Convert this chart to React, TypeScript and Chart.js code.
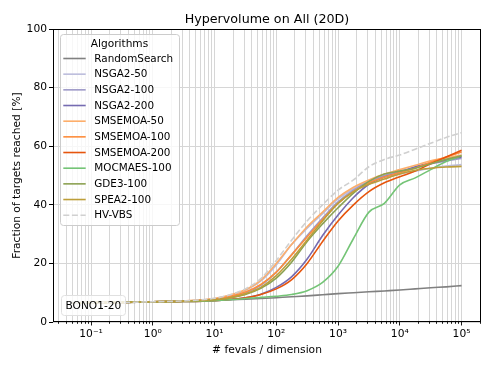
import React, { useEffect, useRef } from 'react';
import { Chart, registerables } from 'chart.js';

Chart.register(...registerables);
Chart.defaults.font.family = "'DejaVu Sans', sans-serif";
Chart.defaults.color = '#000';

// ---------- data ----------
const fevals = [0.05, 0.1, 0.316, 1, 3.16, 10, 17.8, 31.6, 56.2, 100, 178, 316, 562, 1000, 1778, 3162, 5623, 10000, 17783, 31623, 56234, 100000];

const randomSearch = [6.5, 6.6, 6.7, 6.9, 7.1, 7.4, 7.6, 7.8, 8.0, 8.3, 8.6, 8.9, 9.3, 9.7, 10.0, 10.3, 10.6, 10.9, 11.3, 11.7, 12.0, 12.4];
const nsga2_50 = [6.5, 6.6, 6.7, 6.9, 7.1, 7.9, 9.0, 10.8, 14.0, 19.5, 26.5, 32.0, 37.0, 42.0, 45.5, 48.0, 49.5, 50.5, 51.5, 52.5, 53.2, 53.7];
const nsga2_100 = [6.5, 6.6, 6.7, 6.9, 7.1, 7.7, 8.5, 9.9, 12.5, 17.0, 23.0, 29.5, 35.5, 41.0, 45.0, 48.0, 50.0, 51.5, 52.8, 54.0, 55.0, 55.8];
const nsga2_200 = [6.5, 6.6, 6.7, 6.9, 7.0, 7.3, 7.7, 8.3, 9.5, 11.8, 15.5, 21.5, 29.5, 36.5, 42.5, 47.0, 49.5, 51.0, 53.0, 54.2, 55.3, 56.3];
const smsemoa_50 = [6.5, 6.6, 6.7, 6.9, 7.2, 8.0, 9.2, 11.0, 14.3, 20.0, 26.5, 32.5, 37.5, 42.5, 46.0, 48.5, 50.5, 52.0, 53.5, 55.0, 56.0, 57.0];
const smsemoa_100 = [6.5, 6.6, 6.7, 6.9, 7.1, 7.8, 8.7, 10.2, 12.8, 17.0, 23.0, 29.0, 35.0, 40.5, 44.5, 47.5, 49.5, 51.0, 52.5, 54.5, 56.3, 58.0];
const smsemoa_200 = [6.5, 6.6, 6.7, 6.9, 7.0, 7.3, 7.7, 8.3, 9.4, 11.3, 14.5, 20.0, 27.5, 34.5, 40.0, 44.5, 47.5, 49.6, 51.5, 54.0, 56.3, 58.6];
const mocmaes_100 = [6.5, 6.6, 6.7, 6.9, 7.0, 7.3, 7.6, 8.0, 8.4, 8.8, 9.4, 10.7, 13.5, 19.0, 28.5, 37.5, 40.5, 46.8, 49.2, 52.0, 54.8, 56.7];
const gde3_100 = [6.5, 6.6, 6.7, 6.9, 7.1, 7.6, 8.2, 9.4, 11.5, 15.0, 20.5, 27.5, 33.5, 39.0, 44.0, 48.0, 50.5, 51.5, 52.5, 54.0, 55.5, 56.7];
const spea2_100 = [6.5, 6.6, 6.7, 6.9, 7.1, 7.6, 8.3, 9.6, 11.8, 15.8, 21.5, 28.0, 34.5, 40.5, 44.5, 47.0, 48.8, 50.5, 51.8, 52.5, 52.9, 53.1];
const hvVbs = [6.5, 6.6, 6.7, 6.9, 7.2, 8.1, 9.3, 11.3, 14.8, 21.0, 28.0, 34.5, 40.0, 45.0, 48.5, 53.0, 55.5, 57.0, 59.0, 61.0, 63.0, 64.6];

const seriesLabels = ['RandomSearch', 'NSGA2-50', 'NSGA2-100', 'NSGA2-200', 'SMSEMOA-50', 'SMSEMOA-100', 'SMSEMOA-200', 'MOCMAES-100', 'GDE3-100', 'SPEA2-100', 'HV-VBS'];
const seriesValues = [randomSearch, nsga2_50, nsga2_100, nsga2_200, smsemoa_50, smsemoa_100, smsemoa_200, mocmaes_100, gde3_100, spea2_100, hvVbs];
const seriesColors = ['#808080', '#bcbddc', '#9e9ac8', '#756bb1', '#fdae6b', '#fd8d3c', '#e6550d', '#74c476', '#8ca252', '#bd9e39', '#d0d0d0'];
const seriesDashed = [false, false, false, false, false, false, false, false, false, false, true];

const xTickValues = [0.1, 1, 10, 100, 1000, 10000, 100000];
const xTickLabels = ['10⁻¹', '10⁰', '10¹', '10²', '10³', '10⁴', '10⁵'];
const yTickValues = [0, 20, 40, 60, 80, 100];

const titleText = 'Hypervolume on All (20D)';
const xTitle = '# fevals / dimension';
const yTitle = 'Fraction of targets reached [%]';
const legendTitle = 'Algorithms';
const problemLabel = 'BONO1-20';

const X_MIN = 0.0242;
const X_MAX = 206500;

// minor + major grid positions for the log axis
const xGridValues: number[] = [];
for (let e = -2; e <= 5; e++) {
  for (let k = 1; k <= 9; k++) {
    const v = k * Math.pow(10, e);
    if (v >= X_MIN && v <= X_MAX) xGridValues.push(v);
  }
}

const isMajor = (v: number) => xTickValues.some((t) => Math.abs(t - v) / t < 1e-6);

function roundRect(ctx: CanvasRenderingContext2D, x: number, y: number, w: number, h: number, r: number) {
  ctx.beginPath();
  ctx.moveTo(x + r, y);
  ctx.lineTo(x + w - r, y);
  ctx.arcTo(x + w, y, x + w, y + r, r);
  ctx.lineTo(x + w, y + h - r);
  ctx.arcTo(x + w, y + h, x + w - r, y + h, r);
  ctx.lineTo(x + r, y + h);
  ctx.arcTo(x, y + h, x, y + h - r, r);
  ctx.lineTo(x, y + r);
  ctx.arcTo(x, y, x + r, y, r);
  ctx.closePath();
}

const decorPlugin = {
  id: 'decor',
  afterDraw(chart: any) {
    const { ctx, chartArea: ca } = chart;
    const xs = chart.scales.x;
    ctx.save();

    // x tick marks (major / minor)
    ctx.strokeStyle = '#000';
    ctx.lineWidth = 0.9;
    xs.ticks.forEach((t: any) => {
      const p = xs.getPixelForValue(t.value);
      const px = Math.round(p - 0.5) + 0.5;
      ctx.beginPath();
      ctx.moveTo(px, ca.bottom - 0.5);
      ctx.lineTo(px, ca.bottom - 0.5 + (isMajor(t.value) ? 4 : 2.3));
      ctx.stroke();
    });

    // frame
    ctx.lineWidth = 1;
    ctx.strokeRect(Math.round(ca.left) + 0.5, Math.round(ca.top) + 0.5, Math.round(ca.width) - 1, Math.round(ca.height) - 1);

    // title
    ctx.fillStyle = '#000';
    ctx.font = "12.7px 'DejaVu Sans'";
    ctx.textAlign = 'center';
    ctx.textBaseline = 'alphabetic';
    ctx.fillText(titleText, (ca.left + ca.right) / 2, 22.5);

    // legend
    const lx = 60, ly = 34, lw = 119, lh = 191;
    roundRect(ctx, lx + 0.5, ly + 0.5, lw, lh, 3);
    ctx.fillStyle = 'rgba(255,255,255,0.8)';
    ctx.fill();
    ctx.strokeStyle = '#cccccc';
    ctx.lineWidth = 1;
    ctx.stroke();

    ctx.fillStyle = '#000';
    ctx.font = "10.6px 'DejaVu Sans'";
    ctx.textAlign = 'center';
    ctx.textBaseline = 'middle';
    ctx.fillText(legendTitle, lx + lw / 2, 43.8);

    ctx.font = "10.4px 'DejaVu Sans'";
    ctx.textAlign = 'left';
    chart.data.datasets.forEach((ds: any, i: number) => {
      const y = 58.5 + i * 15.67;
      ctx.save();
      ctx.strokeStyle = ds.borderColor;
      ctx.lineWidth = ds.borderWidth;
      ctx.setLineDash(ds.borderDash || []);
      ctx.beginPath();
      ctx.moveTo(63.3, y);
      ctx.lineTo(85.7, y);
      ctx.stroke();
      ctx.restore();
      ctx.fillStyle = '#000';
      ctx.fillText(ds.label, 94.3, y + 0.5);
    });

    // problem label box
    roundRect(ctx, 61.5, 295.5, 64, 20, 3);
    ctx.fillStyle = 'rgba(255,255,255,0.8)';
    ctx.fill();
    ctx.strokeStyle = '#e0e0e0';
    ctx.stroke();
    ctx.fillStyle = '#000';
    ctx.font = "10.6px 'DejaVu Sans'";
    ctx.textAlign = 'left';
    ctx.textBaseline = 'middle';
    ctx.fillText(problemLabel, 65.5, 306);

    ctx.restore();
  },
};

export default function App() {
  const ref = useRef<HTMLCanvasElement | null>(null);

  useEffect(() => {
    if (!ref.current) return;
    const datasets = seriesLabels.map((label, i) => ({
      label,
      data: fevals.map((x, j) => ({ x, y: seriesValues[i][j] })),
      borderColor: seriesColors[i],
      backgroundColor: seriesColors[i],
      borderWidth: 1.6,
      borderDash: seriesDashed[i] ? [6, 2.6] : [],
      pointRadius: 0,
      fill: false,
      cubicInterpolationMode: 'monotone' as const,
      order: -i,
    }));

    const chart = new Chart(ref.current, {
      type: 'line',
      data: { datasets },
      options: {
        animation: false,
        responsive: false,
        devicePixelRatio: 1,
        layout: { padding: { top: 29, right: 12, left: 0, bottom: 0 } },
        plugins: {
          legend: { display: false },
          tooltip: { enabled: false },
          title: { display: false },
        },
        scales: {
          x: {
            type: 'logarithmic',
            min: X_MIN,
            max: X_MAX,
            afterBuildTicks: (s: any) => {
              s.ticks = xGridValues.map((v) => ({ value: v }));
            },
            afterFit: (s: any) => {
              s.height = 48;
            },
            grid: { color: '#d6d6d6', lineWidth: 1, drawTicks: false },
            border: { display: false },
            ticks: {
              autoSkip: false,
              maxRotation: 0,
              minRotation: 0,
              padding: 5.5,
              font: { size: 10.7 },
              color: '#000',
              callback: (value: any) => {
                const v = Number(value);
                const idx = xTickValues.findIndex((t) => Math.abs(t - v) / t < 1e-6);
                return idx >= 0 ? xTickLabels[idx] : '';
              },
            },
            title: {
              display: true,
              text: xTitle,
              font: { size: 10.7 },
              color: '#000',
              padding: { top: 0, bottom: 13.5 },
            },
          },
          y: {
            type: 'linear',
            min: 0,
            max: 100,
            afterBuildTicks: (s: any) => {
              s.ticks = yTickValues.map((v) => ({ value: v }));
            },
            afterFit: (s: any) => {
              s.width = 53;
            },
            grid: { color: '#d6d6d6', lineWidth: 1, tickColor: '#000', tickLength: 4, tickWidth: 1 },
            border: { display: false },
            ticks: { padding: 2, font: { size: 10.7 }, color: '#000' },
            title: {
              display: true,
              text: yTitle,
              font: { size: 10.7 },
              color: '#000',
              padding: { top: 11.2, bottom: 0 },
            },
          },
        },
      },
      plugins: [decorPlugin],
    });
    return () => chart.destroy();
  }, []);

  return (
    <div style={{ position: 'absolute', left: 0, top: 0, width: 493, height: 370 }}>
      <canvas ref={ref} width={493} height={370} style={{ display: 'block' }} />
    </div>
  );
}
